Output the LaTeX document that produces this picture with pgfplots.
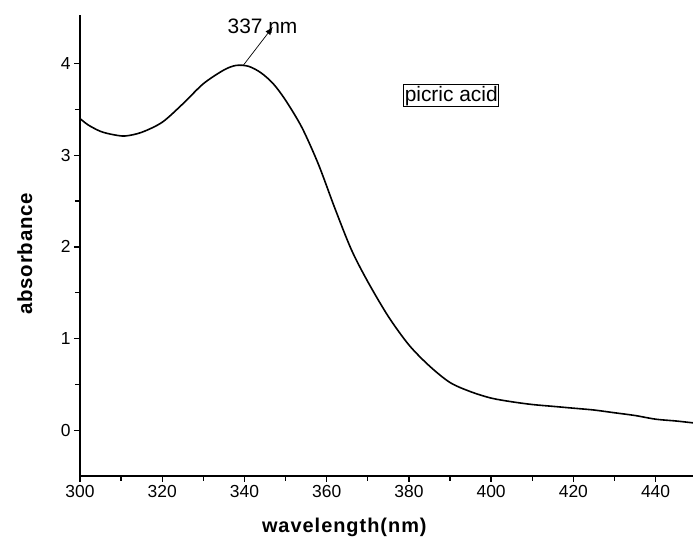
\documentclass[border=0pt]{standalone}
\usepackage{fontspec}
\setmainfont{Liberation Sans}
\usepackage{pgfplots}
\pgfplotsset{compat=1.18}
\usetikzlibrary{arrows.meta}
\begin{document}
\begin{tikzpicture}
\begin{axis}[
  at={(0,0)}, anchor=south west,
  scale only axis,
  width=613bp, height=461bp,
  xmin=300, xmax=449.1, ymin=-0.5, ymax=4.53,
  axis lines*=left,
  axis line style={line width=1.6bp},
  xtick={300,320,...,440}, ytick={0,1,2,3,4},
  minor x tick num=1, minor y tick num=1,
  tick align=outside,
  major tick length=6bp, minor tick length=5bp,
  tick style={line width=1.3bp, black},
  /pgf/number format/assume math mode=true,
  ticklabel style={font=\fontsize{17.5}{20}\selectfont},
  xlabel={\textbf{wavelength(nm)}},
  ylabel={\textbf{absorbance}},
  xlabel style={font=\fontsize{20}{24}\selectfont\addfontfeature{LetterSpace=5}, at={(axis description cs:0.432,-0.112)}, anchor=center},
  ylabel style={font=\fontsize{20.5}{24}\selectfont\addfontfeature{LetterSpace=4}, at={(axis description cs:-0.090,0.483)}, anchor=center},
  clip mode=individual,
]
\addplot[black, line width=1.6bp, smooth, tension=0.5] coordinates {
(300,3.40) (302,3.33) (305,3.26) (308,3.225) (311,3.21) (315,3.25)
(320,3.36) (325,3.56) (330,3.78) (335,3.93) (338,3.98) (341,3.97)
(344,3.90) (347,3.78) (350,3.60) (354,3.30) (358,2.90) (362,2.42)
(366,1.97) (370,1.62) (375,1.24) (380,0.93) (385,0.70) (390,0.52)
(395,0.42) (400,0.35) (405,0.31) (410,0.28) (415,0.26) (420,0.24)
(425,0.22) (430,0.19) (435,0.16) (440,0.12) (445,0.10) (449.1,0.08)
};
\node[font=\fontsize{21}{24}\selectfont, anchor=center] at (axis cs:344.4,4.41) {337 nm};
\draw[-{Latex[length=8bp,width=6bp]}, line width=0.7bp] (axis cs:339.7,3.98) -- (axis cs:346.9,4.40);
\node[draw, line width=0.8bp, inner sep=1bp, font=\fontsize{21}{24}\selectfont] at (axis cs:390.3,3.65) {picric acid};
\end{axis}
\pgfresetboundingbox
\path (-80bp,-64bp) rectangle (613bp,476bp);
\end{tikzpicture}
\end{document}
